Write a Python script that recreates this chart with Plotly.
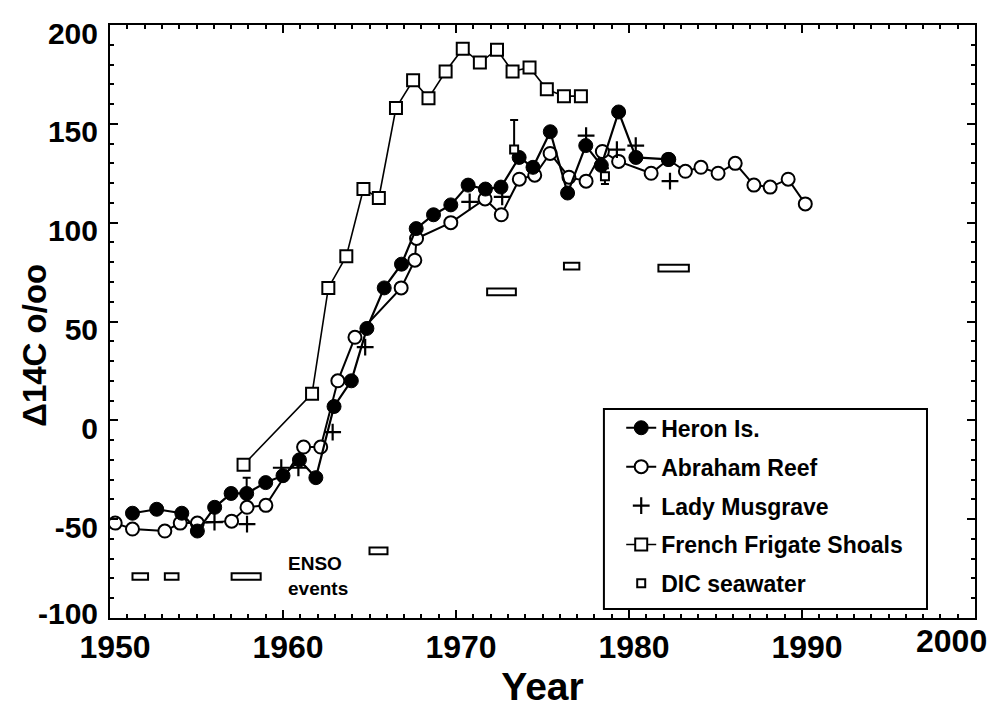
import plotly.graph_objects as go

# ---------------- data ----------------
heron_years = [1951.3, 1952.7, 1954.15, 1955.05, 1956.05, 1957.0, 1957.9, 1959.0, 1960.0, 1960.95,
               1961.9, 1962.95, 1963.95, 1964.85, 1965.85, 1966.85, 1967.7, 1968.7, 1969.7, 1970.7,
               1971.7, 1972.6, 1973.65, 1974.45, 1975.45, 1976.45, 1977.5, 1978.4, 1979.4, 1980.4,
               1982.3]
heron_vals = [-47, -45, -47, -56, -44, -37, -37, -31.5, -28, -20,
              -29, 7, 20, 46.5, 67, 79, 97, 104, 109, 119,
              117, 118, 133, 128, 146, 115, 139, 129, 156, 133,
              132]
heron_err_up = [None] * 6 + [8] + [None] * 24

abraham_years = [1950.3, 1951.3, 1953.17, 1954.06, 1955.05, 1957.03, 1957.92, 1959.01, 1961.19, 1962.18,
                 1963.17, 1964.16, 1966.83, 1967.62, 1967.72, 1969.7, 1971.68, 1972.62, 1973.66, 1974.55,
                 1975.44, 1976.53, 1977.52, 1978.46, 1979.4, 1981.28, 1982.27, 1983.26, 1984.16, 1985.15,
                 1986.14, 1987.22, 1988.16, 1989.2, 1990.19]
abraham_vals = [-52, -55, -56, -52, -52, -51, -44, -43, -13.5, -13.5,
                20, 42, 67, 81, 92, 100, 112, 104, 122, 124,
                135, 123, 121, 136, 131, 125, 132, 126, 128, 125,
                130, 119, 118, 122, 109.5]

musgrave_years = [1956.04, 1957.92, 1959.9, 1960.89, 1962.87, 1964.75, 1970.79, 1972.67, 1977.52, 1979.3,
                  1980.39, 1982.37]
musgrave_vals = [-51.5, -52.5, -24, -24, -6, 37, 110.5, 113, 144, 137,
                 139, 121]

ffs_years = [1957.72, 1961.68, 1962.62, 1963.66, 1964.65, 1965.54, 1966.53, 1967.52, 1968.41, 1969.4,
             1970.39, 1971.38, 1972.37, 1973.27, 1974.25, 1975.25, 1976.24, 1977.22]
ffs_vals = [-22.5, 13.5, 67, 83, 117, 112.5, 158, 172, 163, 176.5,
            188, 181, 187.5, 176.5, 178.5, 167.5, 164, 164]

dic_years = [1973.36, 1978.61]
dic_vals = [137, 123.5]
dic_err_up = [15, 4]
dic_err_down = [0, 4]

enso_start = [1951.3, 1953.17, 1957.03, 1965.0, 1971.8, 1976.24, 1981.7]
enso_end = [1952.2, 1953.96, 1958.71, 1966.04, 1973.46, 1977.13, 1983.46]
enso_level = [-79, -79, -79, -66, 65, 78, 77]

x_tick_vals = [1950, 1960, 1970, 1980, 1990, 2000]
y_tick_vals = [-100, -50, 0, 50, 100, 150, 200]

# ---------------- figure ----------------
FONT = "Liberation Sans, Arial, Helvetica, sans-serif"
fig = go.Figure()

fig.add_trace(go.Scatter(
    x=ffs_years, y=ffs_vals, name="French Frigate Shoals", mode="lines+markers",
    line=dict(color="black", width=1.6),
    marker=dict(symbol="square", size=12, color="white", line=dict(color="black", width=2)),
    legendgroup="d", legendrank=4))

fig.add_trace(go.Scatter(
    x=abraham_years, y=abraham_vals, name="Abraham Reef", mode="lines+markers",
    line=dict(color="black", width=2),
    marker=dict(symbol="circle", size=13, color="white", line=dict(color="black", width=2)),
    legendgroup="b", legendrank=2))

fig.add_trace(go.Scatter(
    x=heron_years, y=heron_vals, name="Heron Is.", mode="lines+markers",
    line=dict(color="black", width=2.2),
    marker=dict(symbol="circle", size=14, color="black", line=dict(color="black", width=1)),
    error_y=dict(type="data", symmetric=False, array=heron_err_up,
                 arrayminus=[0 if v is not None else None for v in heron_err_up],
                 color="black", thickness=2, width=4),
    legendgroup="a", legendrank=1))

fig.add_trace(go.Scatter(
    x=musgrave_years, y=musgrave_vals, name="Lady Musgrave", mode="markers",
    marker=dict(symbol="cross-thin", size=12, color="black", line=dict(color="black", width=2.2)),
    legendgroup="c", legendrank=3))

fig.add_trace(go.Scatter(
    x=dic_years, y=dic_vals, name="DIC seawater", mode="markers",
    marker=dict(symbol="square", size=8, color="white", line=dict(color="black", width=2)),
    error_y=dict(type="data", symmetric=False, array=dic_err_up, arrayminus=dic_err_down,
                 color="black", thickness=2, width=4),
    legendgroup="e", legendrank=5))

# ENSO event bars
half_h = 1.7
for s, e, lv in zip(enso_start, enso_end, enso_level):
    fig.add_shape(type="rect", xref="x", yref="y", x0=s, x1=e, y0=lv - half_h, y1=lv + half_h,
                  line=dict(color="black", width=2), fillcolor="white", layer="above")

fig.add_annotation(x=1960.2, y=-79, xref="x", yref="y", text="ENSO<br>events",
                   showarrow=False, xanchor="left", yanchor="middle", align="left",
                   font=dict(family=FONT, size=19, color="black", weight="bold"))

# legend frame
fig.add_shape(type="rect", xref="paper", yref="paper", x0=0.571, x1=0.9445, y0=0.015, y1=0.3524,
              line=dict(color="black", width=2), fillcolor="white", layer="above")

# y-axis title placed as annotation for precise position
fig.add_annotation(x=-0.0867, y=0.459, xref="paper", yref="paper", text="Δ14C o/oo",
                   showarrow=False, textangle=-90, xanchor="center", yanchor="middle",
                   font=dict(family=FONT, size=33, color="black", weight="bold"))

# end tick labels, nudged inward as in the reference
fig.add_annotation(x=x_tick_vals[-1], y=0, xref="x", yref="paper", text=str(x_tick_vals[-1]),
                   showarrow=False, xanchor="right", yanchor="top", xshift=14, yshift=-3,
                   font=dict(family=FONT, size=32, color="black", weight="bold"))
fig.add_annotation(x=0, y=y_tick_vals[0], xref="paper", yref="y", text=str(y_tick_vals[0]),
                   showarrow=False, xanchor="right", yanchor="middle", xshift=-10, yshift=5,
                   font=dict(family=FONT, size=30, color="black", weight="bold"))

axis_common = dict(showline=True, linecolor="black", linewidth=2, mirror="allticks",
                   ticks="inside", ticklen=8, tickwidth=1.5, tickcolor="black",
                   showgrid=False, zeroline=False, automargin=False,
                   ticklabeloverflow="allow")

fig.update_xaxes(range=[1950, 2000], tickvals=x_tick_vals,
                 ticktext=[str(v) for v in x_tick_vals[:-1]] + [""],
                 minor=dict(ticks="inside", ticklen=4, dtick=1, tick0=1950, tickcolor="black", showgrid=False),
                 tickfont=dict(family=FONT, size=32, color="black", weight="bold"),
                 ticklabelshift=5,
                 title=dict(text="Year", font=dict(family=FONT, size=39, color="black", weight="bold"),
                            standoff=8),
                 **axis_common)
fig.update_yaxes(range=[-100, 200], tickvals=y_tick_vals,
                 ticktext=[""] + [str(v) for v in y_tick_vals[1:]],
                 minor=dict(ticks="inside", ticklen=4, dtick=10, tick0=0, tickcolor="black", showgrid=False),
                 tickfont=dict(family=FONT, size=30, color="black", weight="bold"),
                 ticklabelstandoff=4, ticklabelshift=8,
                 **axis_common)

fig.update_layout(
    width=989, height=702,
    margin=dict(l=102, r=22, t=17, b=92),
    paper_bgcolor="white", plot_bgcolor="white",
    showlegend=True,
    legend=dict(x=0.591, y=0.357, xanchor="left", yanchor="top",
                bgcolor="rgba(0,0,0,0)", borderwidth=0,
                font=dict(family=FONT, size=23, color="black", weight="bold"),
                traceorder="grouped", tracegroupgap=6, itemwidth=30),
)

fig.write_html("out.html")
